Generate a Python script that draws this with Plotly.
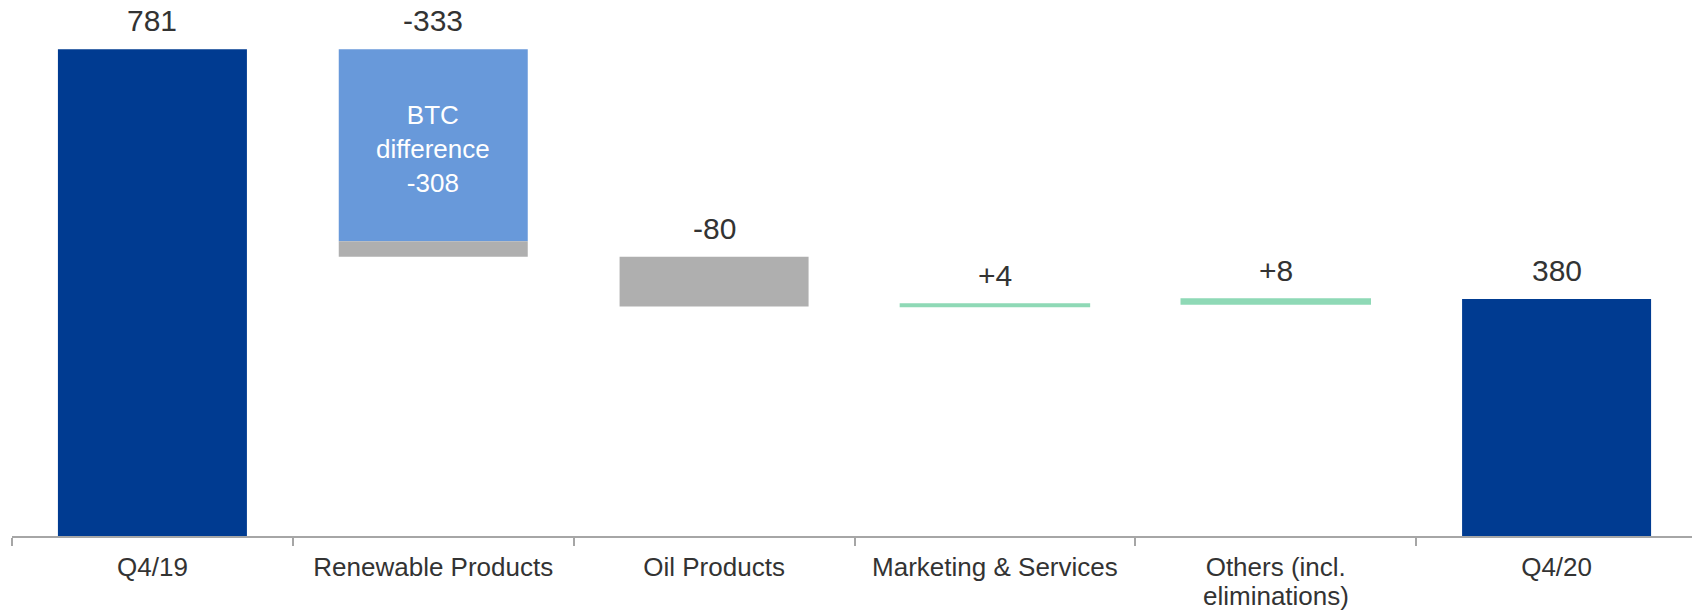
import plotly.graph_objects as go

# ---- data ----
categories = ["Q4/19", "Renewable Products", "Oil Products",
              "Marketing & Services", "Others (incl.<br>eliminations)", "Q4/20"]
start_value = 781
end_value = 380
renewable_change = -333
btc_difference = -308
oil_change = -80
marketing_change = 4
others_change = 8
value_labels = ["781", "-333", "-80", "+4", "+8", "380"]
btc_label = "BTC<br>difference<br>-308"

# ---- derived waterfall levels ----
renew_top = start_value
btc_bottom = renew_top + btc_difference
renew_bottom = renew_top + renewable_change
renew_rest = renewable_change - btc_difference
oil_bottom = renew_bottom + oil_change
mkt_top = oil_bottom + marketing_change
oth_top = mkt_top + others_change

DARK = "#003B91"
LIGHT = "#6899DA"
GREY = "#AFAFAF"
GREEN = "#8FD9B6"
TXT = "#333333"
FONT = "Liberation Sans, Arial, sans-serif"
BW = 0.673

fig = go.Figure()
fig.add_trace(go.Bar(x=[categories[0], categories[5]], y=[start_value, end_value],
                     base=[0, 0], width=BW, marker=dict(color=DARK, line=dict(width=0))))
fig.add_trace(go.Bar(x=[categories[1]], y=[-btc_difference], base=[btc_bottom],
                     width=BW, marker=dict(color=LIGHT, line=dict(width=0))))
fig.add_trace(go.Bar(x=[categories[1], categories[2]], y=[-renew_rest, -oil_change],
                     base=[renew_bottom, oil_bottom], width=BW,
                     marker=dict(color=GREY, line=dict(width=0))))
fig.add_trace(go.Bar(x=[categories[3], categories[4]], y=[marketing_change, others_change],
                     base=[oil_bottom, mkt_top], width=BW,
                     marker=dict(color=GREEN, line=dict(color=GREEN, width=1.5))))

label_tops = [start_value, renew_top, renew_bottom, mkt_top, oth_top, end_value]
annotations = []
for cat, top, lab in zip(categories, label_tops, value_labels):
    annotations.append(dict(x=cat, y=top, text=lab, showarrow=False, yanchor="bottom",
                            yshift=10, font=dict(family=FONT, size=30, color=TXT)))
annotations.append(dict(x=categories[1], y=(renew_top + btc_bottom) / 2, text=btc_label,
                        showarrow=False, yanchor="middle", yshift=-4,
                        font=dict(family=FONT, size=26, color="white")))

# category labels: first line as tick label, further lines as annotations (tighter line spacing)
tick_text = []
for cat in categories:
    lines = cat.split("<br>")
    tick_text.append(lines[0])
    for i, extra in enumerate(lines[1:], start=1):
        annotations.append(dict(x=cat, y=0, yref="y", text=extra, showarrow=False,
                                yanchor="middle", yshift=-32 - 28 * i,
                                font=dict(family=FONT, size=26, color=TXT)))

fig.update_layout(
    width=1692, height=605,
    margin=dict(l=4, r=3, t=0, b=77),
    barmode="overlay",
    showlegend=False,
    plot_bgcolor="white", paper_bgcolor="white",
    annotations=annotations,
    xaxis=dict(type="category", categoryorder="array", categoryarray=categories,
               tickvals=categories, ticktext=tick_text,
               range=[-0.5, 5.5], showline=True, linecolor="#A6A6A6", automargin=False,
               linewidth=1.5, ticks="outside", tickson="boundaries", ticklen=8,
               tickcolor="#A6A6A6", tickwidth=1.5, showgrid=False, zeroline=False,
               ticklabelstandoff=7,
               tickfont=dict(family=FONT, size=26, color=TXT)),
    yaxis=dict(visible=False, range=[0, 847], showgrid=False, zeroline=False,
               automargin=False),
)

fig.write_html("out.html")
